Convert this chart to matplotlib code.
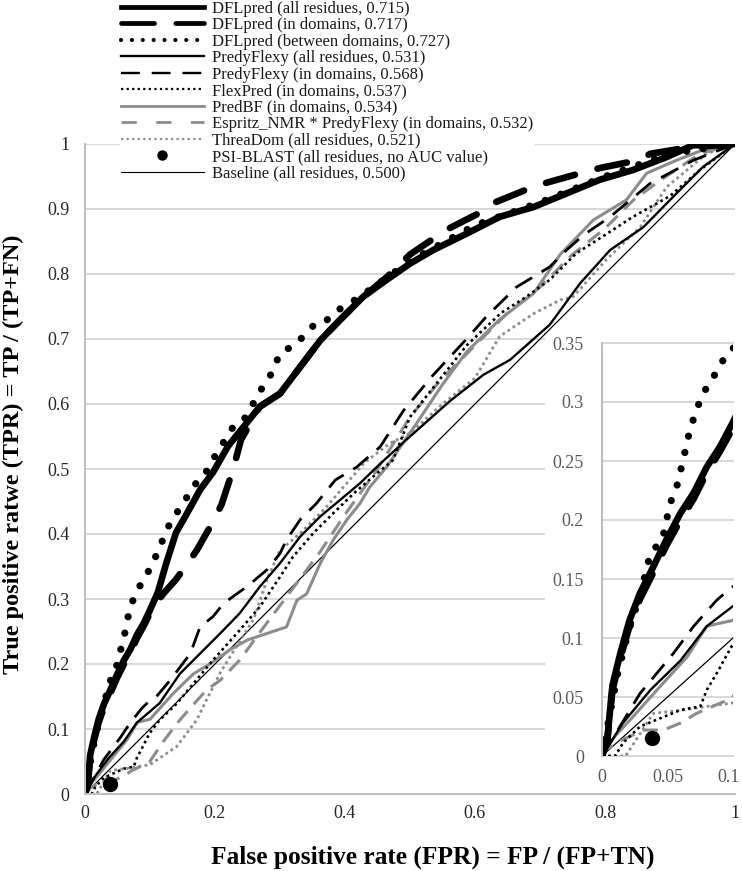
import matplotlib
matplotlib.use('Agg')
import matplotlib.pyplot as plt
from matplotlib.lines import Line2D
from matplotlib.patches import Rectangle
from matplotlib.transforms import ScaledTranslation

plt.rcParams['font.family'] = 'serif'
plt.rcParams['font.serif'] = ['Liberation Serif', 'DejaVu Serif']

GRAY = '#8c8c8c'
GRID = '#d9d9d9'

# ROC points (FPR, TPR)
dfl_all_x = [0, 0.004, 0.008, 0.014, 0.021, 0.029, 0.039, 0.049, 0.06, 0.07, 0.08, 0.09, 0.1,
             0.112, 0.125, 0.14, 0.156, 0.177, 0.197, 0.22, 0.24, 0.269, 0.3, 0.331, 0.362,
             0.392, 0.428, 0.464, 0.5, 0.536, 0.587, 0.638, 0.69, 0.741, 0.792, 0.843, 0.895,
             0.935, 1]
dfl_all_y = [0, 0.014, 0.06, 0.087, 0.115, 0.138, 0.16, 0.183, 0.206, 0.223, 0.245, 0.262, 0.283,
             0.31, 0.355, 0.402, 0.43, 0.468, 0.495, 0.535, 0.56, 0.596, 0.616, 0.657, 0.698,
             0.729, 0.765, 0.791, 0.816, 0.837, 0.862, 0.888, 0.903, 0.924, 0.945, 0.96, 0.98,
             0.998, 1]

dfl_dom_x = [0, 0.004, 0.008, 0.014, 0.021, 0.029, 0.039, 0.049, 0.06, 0.07, 0.08, 0.09, 0.1,
             0.11, 0.123, 0.14, 0.156, 0.172, 0.197, 0.21, 0.228, 0.24, 0.269, 0.3, 0.331,
             0.362, 0.392, 0.428, 0.464, 0.5, 0.556, 0.605, 0.628, 0.677, 0.705, 0.762, 0.792,
             0.851, 0.87, 0.93, 1]
dfl_dom_y = [0, 0.012, 0.056, 0.083, 0.11, 0.133, 0.155, 0.178, 0.2, 0.218, 0.24, 0.258, 0.278,
             0.295, 0.311, 0.33, 0.352, 0.375, 0.419, 0.445, 0.5, 0.545, 0.596, 0.616, 0.657,
             0.698, 0.729, 0.765, 0.795, 0.83, 0.868, 0.893, 0.909, 0.929, 0.939, 0.955, 0.963,
             0.975, 0.985, 0.995, 1]

dfl_btw_x = [0, 0.005, 0.012, 0.02, 0.03, 0.037, 0.046, 0.052, 0.057, 0.062, 0.067, 0.072, 0.077,
             0.085, 0.091, 0.096, 0.1, 0.115, 0.128, 0.144, 0.159, 0.174, 0.185, 0.2, 0.228,
             0.244, 0.259, 0.272, 0.287, 0.3, 0.326, 0.344, 0.359, 0.372, 0.39, 0.403, 0.43,
             0.5, 0.6, 0.7, 0.8, 0.9, 1]
dfl_btw_y = [0, 0.03, 0.07, 0.105, 0.14, 0.172, 0.183, 0.214, 0.228, 0.251, 0.276, 0.293, 0.307,
             0.321, 0.333, 0.341, 0.345, 0.38, 0.411, 0.437, 0.46, 0.483, 0.493, 0.52, 0.565,
             0.575, 0.601, 0.624, 0.647, 0.678, 0.693, 0.714, 0.727, 0.729, 0.745, 0.752, 0.77,
             0.82, 0.875, 0.91, 0.95, 0.985, 1]

pf_all_x = [0, 0.016, 0.037, 0.06, 0.08, 0.1, 0.115, 0.146, 0.177, 0.208, 0.238, 0.269, 0.3,
            0.331, 0.362, 0.392, 0.423, 0.454, 0.5, 0.562, 0.613, 0.654, 0.715, 0.762, 0.808,
            0.859, 0.91, 0.951, 1]
pf_all_y = [0, 0.028, 0.056, 0.081, 0.11, 0.127, 0.14, 0.185, 0.216, 0.247, 0.278, 0.319, 0.355,
            0.396, 0.427, 0.452, 0.478, 0.508, 0.55, 0.605, 0.645, 0.668, 0.722, 0.786, 0.837,
            0.872, 0.924, 0.965, 1]

pf_dom_x = [0, 0.029, 0.0545, 0.07, 0.0875, 0.099, 0.11, 0.131, 0.162, 0.177, 0.197, 0.213, 0.228,
            0.249, 0.28, 0.3, 0.31, 0.331, 0.356, 0.385, 0.418, 0.454, 0.49, 0.536, 0.587, 0.618,
            0.664, 0.715, 0.741, 0.767, 0.808, 0.869, 0.936, 1]
pf_dom_y = [0, 0.053, 0.087, 0.11, 0.132, 0.143, 0.15, 0.175, 0.216, 0.257, 0.273, 0.293, 0.304,
            0.319, 0.345, 0.37, 0.391, 0.422, 0.447, 0.483, 0.503, 0.534, 0.59, 0.645, 0.7, 0.735,
            0.78, 0.811, 0.837, 0.86, 0.888, 0.939, 0.975, 1]

flex_x = [0, 0.01, 0.016, 0.029, 0.06, 0.075, 0.08, 0.0875, 0.099, 0.115, 0.141, 0.197, 0.238,
          0.269, 0.3, 0.32, 0.351, 0.382, 0.413, 0.443, 0.474, 0.5, 0.587, 0.64, 0.679, 0.715,
          0.756, 0.8, 0.843, 0.9, 0.946, 1]
flex_y = [0, 0, 0.011, 0.025, 0.039, 0.042, 0.056, 0.07, 0.093, 0.114, 0.139, 0.206, 0.252,
          0.288, 0.334, 0.365, 0.401, 0.432, 0.462, 0.488, 0.514, 0.58, 0.69, 0.74, 0.765, 0.791,
          0.832, 0.86, 0.888, 0.92, 0.96, 1]

predbf_x = [0, 0.01, 0.021, 0.042, 0.065, 0.08, 0.1, 0.136, 0.167, 0.192, 0.223, 0.25, 0.28, 0.31,
            0.326, 0.341, 0.362, 0.382, 0.403, 0.423, 0.438, 0.464, 0.485, 0.51, 0.55, 0.587,
            0.638, 0.69, 0.731, 0.782, 0.833, 0.864, 0.91, 0.951, 1]
predbf_y = [0, 0.017, 0.03, 0.056, 0.084, 0.11, 0.115, 0.155, 0.185, 0.2, 0.222, 0.237, 0.247,
            0.257, 0.298, 0.308, 0.355, 0.391, 0.422, 0.447, 0.472, 0.503, 0.534, 0.57, 0.63, 0.68,
            0.73, 0.77, 0.83, 0.883, 0.914, 0.955, 0.975, 0.991, 1]

esp_x = [0, 0.004, 0.016, 0.032, 0.047, 0.06, 0.072, 0.099, 0.12, 0.141, 0.16, 0.187, 0.208, 0.238,
         0.27, 0.3, 0.33, 0.36, 0.4, 0.45, 0.5, 0.55, 0.6, 0.65, 0.7, 0.75, 0.8, 0.844, 0.885,
         0.946, 1]
esp_y = [0, 0.006, 0.014, 0.022, 0.022, 0.028, 0.036, 0.049, 0.08, 0.108, 0.13, 0.16, 0.175, 0.206,
         0.25, 0.29, 0.33, 0.37, 0.43, 0.5, 0.58, 0.64, 0.69, 0.74, 0.78, 0.83, 0.87, 0.914, 0.944,
         0.985, 1]

threa_x = [0, 0.018, 0.039, 0.062, 0.08, 0.1, 0.141, 0.172, 0.187, 0.21, 0.235, 0.26, 0.28, 0.3,
           0.33, 0.37, 0.43, 0.47, 0.5, 0.55, 0.6, 0.638, 0.69, 0.731, 0.751, 0.802, 0.854, 0.895,
           0.956, 1]
threa_y = [0, 0, 0.036, 0.039, 0.042, 0.045, 0.073, 0.114, 0.145, 0.19, 0.23, 0.27, 0.33, 0.375,
           0.4, 0.44, 0.51, 0.54, 0.555, 0.6, 0.64, 0.704, 0.739, 0.76, 0.765, 0.822, 0.872, 0.934,
           0.985, 1]

psi_x = [0.038]
psi_y = [0.015]
base_x = [0, 1]
base_y = [0, 1]

labels = ['DFLpred (all residues, 0.715)', 'DFLpred (in domains, 0.717)',
          'DFLpred (between domains, 0.727)', 'PredyFlexy (all residues, 0.531)',
          'PredyFlexy (in domains, 0.568)', 'FlexPred (in domains, 0.537)',
          'PredBF (in domains, 0.534)', 'Espritz_NMR * PredyFlexy (in domains, 0.532)',
          'ThreaDom (all residues, 0.521)', 'PSI-BLAST (all residues, no AUC value)',
          'Baseline (all residues, 0.500)']

curves = [
    (base_x, base_y, dict(color='black', lw=0.9)),
    (threa_x, threa_y, dict(color=GRAY, lw=2.0, ls=(0, (1, 1.2)))),
    (esp_x, esp_y, dict(color=GRAY, lw=2.2, ls=(0, (5, 3)))),
    (predbf_x, predbf_y, dict(color=GRAY, lw=2.2)),
    (flex_x, flex_y, dict(color='black', lw=1.9, ls=(0, (1, 1.3)))),
    (pf_dom_x, pf_dom_y, dict(color='black', lw=2.0, ls=(0, (7, 4)))),
    (pf_all_x, pf_all_y, dict(color='black', lw=1.7)),
    (dfl_btw_x, dfl_btw_y, dict(color='black', lw=5.2, ls=(0, (0.01, 2.3)),
                                dash_capstyle='round')),
    (dfl_dom_x, dfl_dom_y, dict(color='black', lw=4.8, ls=(0, (4.5, 3.5)),
                                dash_capstyle='round')),
    (dfl_all_x, dfl_all_y, dict(color='black', lw=4.8, solid_capstyle='round')),
]

fig = plt.figure(figsize=(7.42, 8.71), dpi=100)
ax = fig.add_axes([85 / 742, 77 / 871, 650 / 742, 650 / 871])


def style_axes(a, ymax, ystep, xticks, xlabels, ylabels, color, ypad, xpad):
    a.set_xlim(0, xticks[-1])
    a.set_ylim(0, ymax)
    yt = [i * ystep for i in range(len(ylabels))]
    a.set_yticks(yt)
    a.set_yticklabels(ylabels)
    a.set_xticks(xticks)
    a.set_xticklabels(xlabels)
    a.tick_params(length=0, labelsize=13, labelcolor=color)
    a.tick_params(axis='y', pad=ypad)
    a.tick_params(axis='x', pad=xpad)
    for s in ('top', 'right'):
        a.spines[s].set_visible(False)
    for s in ('left', 'bottom'):
        a.spines[s].set_color('#bfbfbf')
        a.spines[s].set_linewidth(1.5)
    a.grid(True, axis='y', color=GRID, linewidth=1.5)
    a.set_axisbelow(True)


for x, y, kw in curves:
    ax.plot(x, y, **kw)
ax.plot(psi_x, psi_y, 'o', color='black', markersize=10)

style_axes(ax, 1, 0.1, [0, 0.2, 0.4, 0.6, 0.8, 1],
           ['0', '0.2', '0.4', '0.6', '0.8', '1'],
           ['0', '0.1', '0.2', '0.3', '0.4', '0.5', '0.6', '0.7', '0.8', '0.9', '1'],
           '#262626', 11, 8)

ax.set_xlabel('False positive rate (FPR) = FP / (FP+TN)', fontsize=18.3, fontweight='bold')
ax.set_ylabel('True positive ratwe (TPR) = TP / (TP+FN)', fontsize=17.5, fontweight='bold')
ax.xaxis.set_label_coords((433 - 85) / 650, (794 - 846) / 650)
ax.yaxis.set_label_coords((24 - 85) / 650, (794 - 454) / 650)

# white panel behind the zoom-in inset
fig.patches.append(Rectangle((545 / 742, 1 - 790 / 871), 197 / 742, (790 - 337) / 871,
                             transform=fig.transFigure, facecolor='white',
                             edgecolor='none', zorder=1))

ins = fig.add_axes([602 / 742, 1 - 756 / 871, 131 / 742, 413 / 871], zorder=2)
ins.patch.set_facecolor('white')
for x, y, kw in curves:
    ins.plot(x, y, **kw)
ins.plot(psi_x, psi_y, 'o', color='black', markersize=10)
style_axes(ins, 0.35, 0.05, [0, 0.05, 0.1], ['0', '0.05', '0.1'],
           ['0', '0.05', '0.1', '0.15', '0.2', '0.25', '0.3', '0.35'],
           '#595959', 13, 9)
ins.spines['bottom'].set_visible(False)
ins.grid(True, axis='y', color=GRID, linewidth=1.5, clip_on=False)
last = ins.get_xticklabels()[-1]
last.set_transform(last.get_transform() + ScaledTranslation(-3 / 72, 0, fig.dpi_scale_trans))

handles = [
    Line2D([], [], color='black', lw=3.4),
    Line2D([], [], color='black', lw=3.4, ls=(0, (7, 4.5)), dash_capstyle='round'),
    Line2D([], [], color='black', lw=3.0, ls=(0, (0.01, 2.6)), dash_capstyle='round'),
    Line2D([], [], color='black', lw=1.7),
    Line2D([], [], color='black', lw=1.7, ls=(0, (8, 5))),
    Line2D([], [], color='black', lw=1.6, ls=(0, (1, 1.5))),
    Line2D([], [], color=GRAY, lw=2.0),
    Line2D([], [], color=GRAY, lw=2.0, ls=(0, (5.5, 7))),
    Line2D([], [], color=GRAY, lw=1.6, ls=(0, (1, 1.5))),
    Line2D([], [], color='black', ls='none', marker='o', markersize=6.5),
    Line2D([], [], color='black', lw=0.8),
]
leg = fig.legend(handles, labels, loc='upper left', bbox_to_anchor=(120 / 742, 1.0),
                 fontsize=12, frameon=True, borderpad=0.05, borderaxespad=0,
                 handlelength=5.0, handletextpad=0.5, labelspacing=0.03)
leg.get_frame().set_facecolor('white')
leg.get_frame().set_edgecolor('none')
leg.get_frame().set_alpha(1)
for t in leg.get_texts():
    t.set_color('#1a1a1a')

fig.savefig('out.png', dpi=100)
